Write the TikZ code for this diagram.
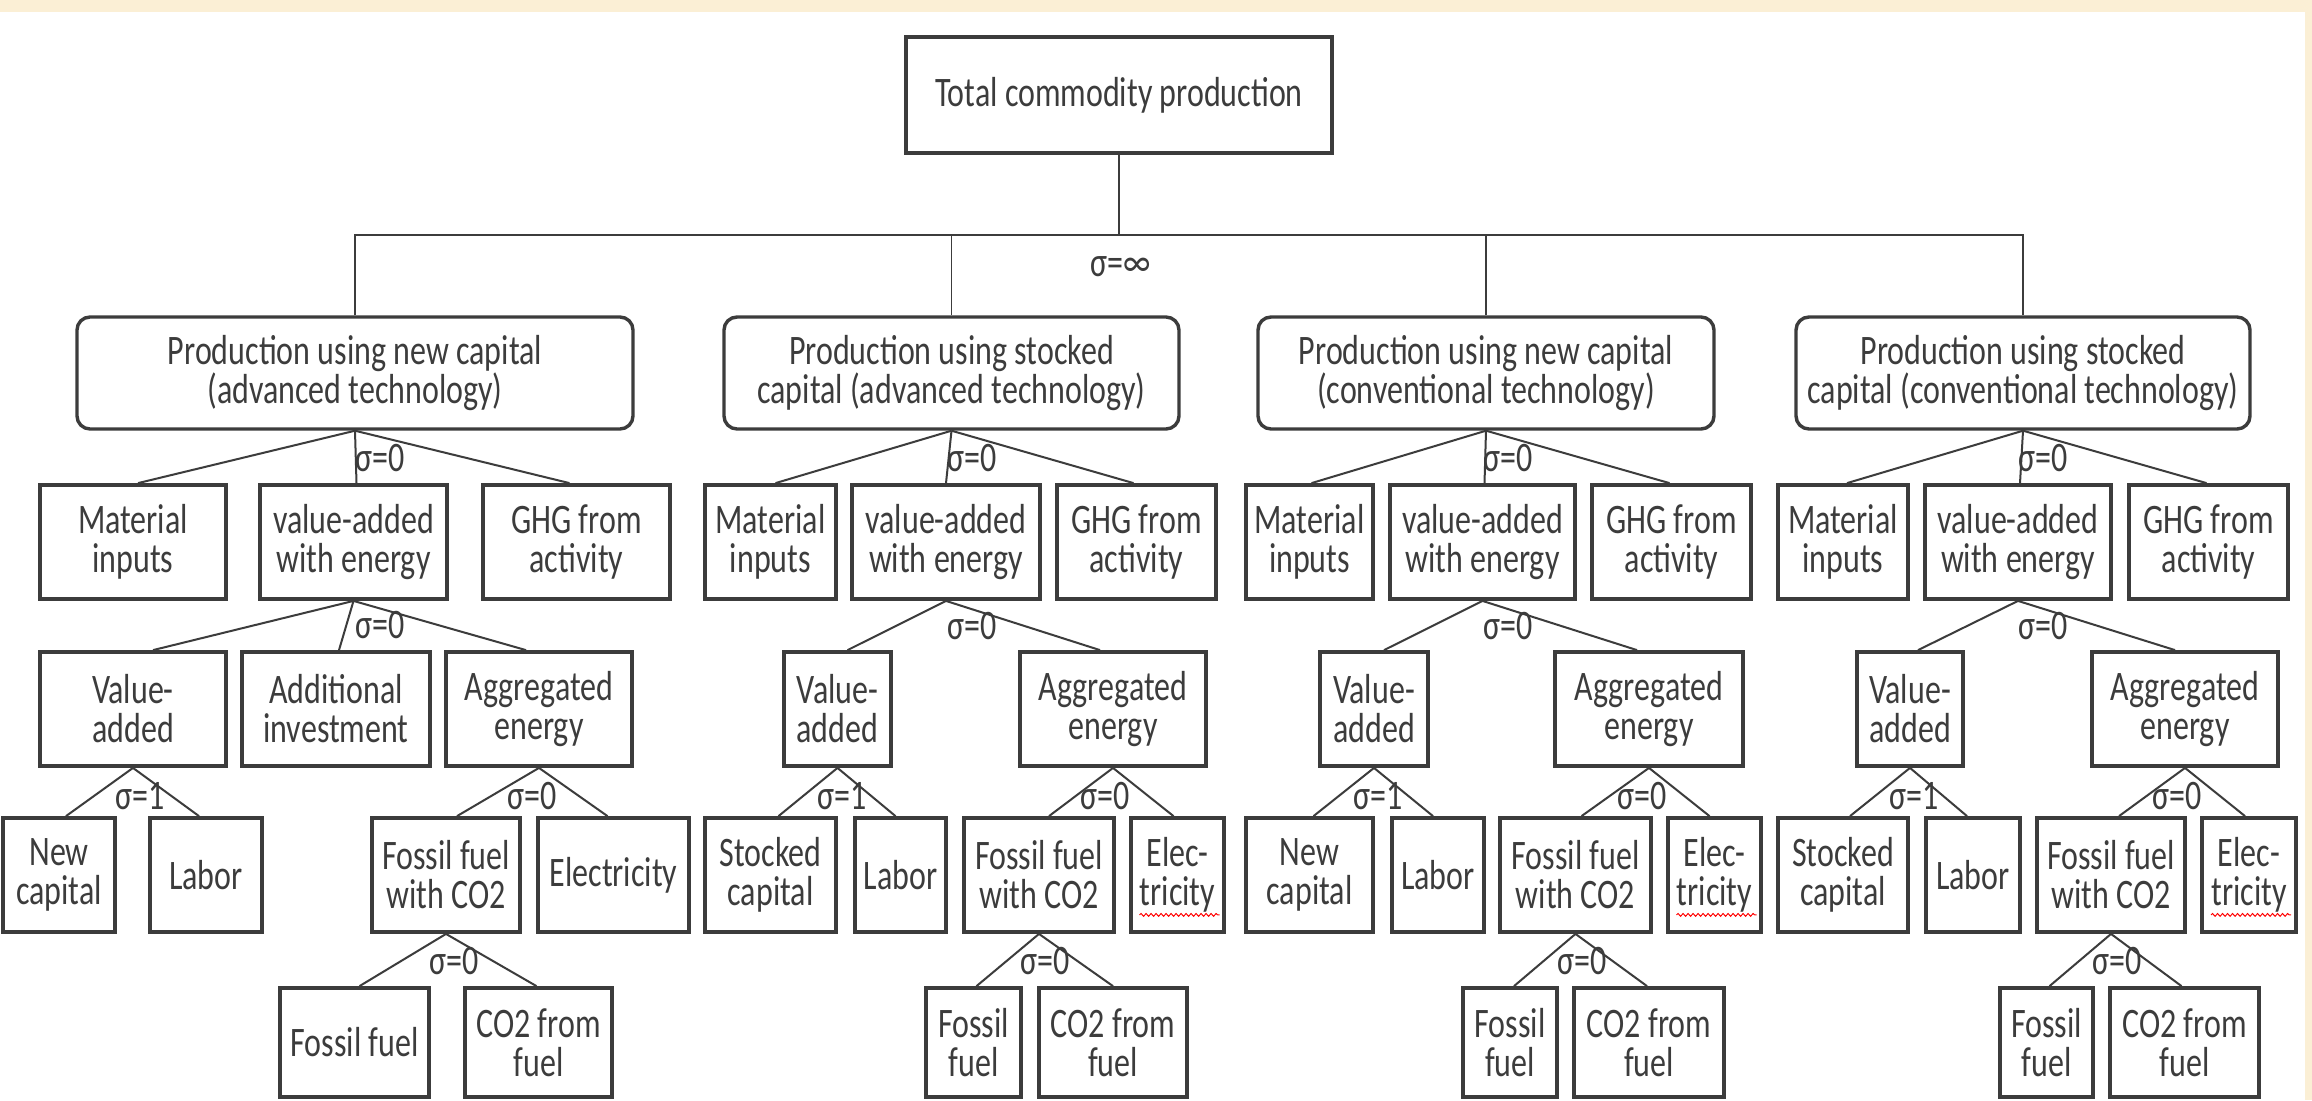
\documentclass[tikz,border=0pt]{standalone}
\usepackage{fontspec}
\setmainfont{Carlito}[FakeStretch=0.762]
\usetikzlibrary{calc,decorations.pathmorphing}
\definecolor{ink}{HTML}{3C3C3C}
\definecolor{beige}{HTML}{FBEFD5}
\newcommand\bx[7][]{\node[box,#1,minimum width={(#5-#3)*0.5pt},minimum height={(#6-#4)*0.5pt}] (#2) at ({(#3+#5)/2},{(#4+#6)/2}) {#7};}
\newcommand\con[3]{\draw[conn] (#1.south) -- ([xshift=#3*0.5pt]#2.north);}
\newcommand\squig[1]{\draw[squigline] ($(#1.south)+(-38,-19)$) -- ($(#1.south)+(42,-19)$);}
\begin{document}
\begin{tikzpicture}[x=0.5pt,y=-0.5pt,
  box/.style={draw=ink,line width=1.9pt,inner sep=0pt,align=center,text=ink,font=\fontsize{21}{19.5}\selectfont},
  rbox/.style={rounded corners=6.5pt,line width=1.7pt},
  conn/.style={draw=ink,line width=1pt},
  conntop/.style={draw=ink,line width=0.8pt},
  sig/.style={inner sep=0pt,text=ink,font=\fontsize{21}{19.5}\selectfont},
  squigline/.style={draw=red,line width=0.5pt,decorate,decoration={snake,amplitude=0.7pt,segment length=2.5pt}}]
\fill[white] (0,0) rectangle (2312,1100);
\useasboundingbox (0,0) rectangle (2312,1100);
\fill[beige] (0,0) rectangle (2312,12);
\fill[beige] (2305,0) rectangle (2312,1100);

% top
\bx{T}{906}{37}{1332}{153}{Total commodity production}
% level 1
\bx[rbox]{A}{77}{317}{633}{429}{Production using new capital\\(advanced technology)}
\bx[rbox]{B}{724}{317}{1179}{429}{Production using stocked\\capital (advanced technology)}
\bx[rbox]{C}{1258}{317}{1714}{429}{Production using new capital\\(conventional technology)}
\bx[rbox]{D}{1796}{317}{2250}{429}{Production using stocked\\capital (conventional technology)}

\coordinate (bar) at (0,235);
\draw[conntop] (T.south) -- (T.south |- bar);
\draw[conntop] (A.north) -- (A.north |- bar) -- (D.north |- bar) -- (D.north);
\draw[conntop] (B.north) -- (B.north |- bar);
\draw[conntop] (C.north) -- (C.north |- bar);
\node[sig] (sinf) at (1121,267) {σ=∞};

% ---------- panel A ----------
\bx{Ma}{40}{485}{226}{599}{Material\\inputs}
\bx{VEa}{260}{485}{447}{599}{value-added\\with energy}
\bx{Ga}{483}{485}{670}{599}{GHG from\\activity}
\bx{VAa}{40}{652}{226}{766}{Value-\\added}
\bx{AIa}{242}{652}{430}{766}{Additional\\investment}
\bx{AEa}{446}{652}{632}{766}{Aggregated\\energy}
\bx{NCa}{3}{818}{115}{932}{New\\capital}
\bx{La}{150}{818}{262}{932}{Labor}
\bx{FCa}{372}{818}{520}{932}{Fossil fuel\\with CO2}
\bx{Ea}{538}{818}{689}{932}{Electricity}
\bx{Fa}{280}{988}{429}{1097}{Fossil fuel}
\bx{COa}{465}{988}{612}{1097}{CO2 from\\fuel}
\con{A}{Ma}{5}\con{A}{VEa}{3}\con{A}{Ga}{-7}
\con{VEa}{VAa}{20}\con{VEa}{AIa}{3}\con{VEa}{AEa}{-13}
\con{VAa}{NCa}{7}\con{VAa}{La}{-7}\con{AEa}{FCa}{11}\con{AEa}{Ea}{-6}
\con{FCa}{Fa}{5}\con{FCa}{COa}{-2}
\node[sig] (sa1) at (380,458) {σ=0};
\node[sig] (sa2) at (380,625) {σ=0};
\node[sig] (sa3) at (140,796) {σ=1};
\node[sig] (sa4) at (532,796) {σ=0};
\node[sig] (sa5) at (454,961) {σ=0};

% ---------- panel B ----------
\bx{Mb}{705}{485}{836}{599}{Material\\inputs}
\bx{VEb}{852}{485}{1040}{599}{value-added\\with energy}
\bx{Gb}{1057}{485}{1216}{599}{GHG from\\activity}
\bx{VAb}{784}{652}{891}{766}{Value-\\added}
\bx{AEb}{1020}{652}{1206}{766}{Aggregated\\energy}
\bx{SCb}{705}{818}{836}{932}{Stocked\\capital}
\bx{Lb}{855}{818}{946}{932}{Labor}
\bx{FCb}{964}{818}{1114}{932}{Fossil fuel\\with CO2}
\bx{Eb}{1131}{818}{1224}{932}{Elec-\\tricity}
\bx{Fb}{926}{988}{1021}{1097}{Fossil\\fuel}
\bx{COb}{1039}{988}{1187}{1097}{CO2 from\\fuel}
\con{B}{Mb}{5}\con{B}{VEb}{0}\con{B}{Gb}{-3}
\con{VEb}{VAb}{10}\con{VEb}{AEb}{-13}
\con{VAb}{SCb}{8}\con{VAb}{Lb}{-5}\con{AEb}{FCb}{10}\con{AEb}{Eb}{-4}
\con{FCb}{Fb}{3}\con{FCb}{COb}{0}
\node[sig] (sb1) at (972,458) {σ=0};
\node[sig] (sb2) at (972,626) {σ=0};
\node[sig] (sb3) at (842,796) {σ=1};
\node[sig] (sb4) at (1105,796) {σ=0};
\node[sig] (sb5) at (1045,961) {σ=0};
\squig{Eb}

% ---------- panel C ----------
\bx{Mc}{1246}{485}{1373}{599}{Material\\inputs}
\bx{VEc}{1390}{485}{1575}{599}{value-added\\with energy}
\bx{Gc}{1592}{485}{1751}{599}{GHG from\\activity}
\bx{VAc}{1320}{652}{1428}{766}{Value-\\added}
\bx{AEc}{1555}{652}{1743}{766}{Aggregated\\energy}
\bx{NCc}{1246}{818}{1373}{932}{New\\capital}
\bx{Lc}{1392}{818}{1484}{932}{Labor}
\bx{FCc}{1500}{818}{1651}{932}{Fossil fuel\\with CO2}
\bx{Ec}{1668}{818}{1761}{932}{Elec-\\tricity}
\bx{Fc}{1463}{988}{1557}{1097}{Fossil\\fuel}
\bx{COc}{1574}{988}{1724}{1097}{CO2 from\\fuel}
\con{C}{Mc}{2}\con{C}{VEc}{2}\con{C}{Gc}{-2}
\con{VEc}{VAc}{10}\con{VEc}{AEc}{-12}
\con{VAc}{NCc}{4}\con{VAc}{Lc}{-5}\con{AEc}{FCc}{6}\con{AEc}{Ec}{-5}
\con{FCc}{Fc}{4}\con{FCc}{COc}{-2}
\node[sig] (sc1) at (1508,458) {σ=0};
\node[sig] (sc2) at (1508,626) {σ=0};
\node[sig] (sc3) at (1378,796) {σ=1};
\node[sig] (sc4) at (1642,796) {σ=0};
\node[sig] (sc5) at (1582,961) {σ=0};
\squig{Ec}

% ---------- panel D ----------
\bx{Md}{1778}{485}{1908}{599}{Material\\inputs}
\bx{VEd}{1925}{485}{2111}{599}{value-added\\with energy}
\bx{Gd}{2129}{485}{2288}{599}{GHG from\\activity}
\bx{VAd}{1857}{652}{1963}{766}{Value-\\added}
\bx{AEd}{2092}{652}{2278}{766}{Aggregated\\energy}
\bx{SCd}{1778}{818}{1908}{932}{Stocked\\capital}
\bx{Ld}{1926}{818}{2020}{932}{Labor}
\bx{FCd}{2037}{818}{2185}{932}{Fossil fuel\\with CO2}
\bx{Ed}{2202}{818}{2296}{932}{Elec-\\tricity}
\bx{Fd}{2000}{988}{2093}{1097}{Fossil\\fuel}
\bx{COd}{2110}{988}{2259}{1097}{CO2 from\\fuel}
\con{D}{Md}{4}\con{D}{VEd}{2}\con{D}{Gd}{-2}
\con{VEd}{VAd}{8}\con{VEd}{AEd}{-10}
\con{VAd}{SCd}{7}\con{VAd}{Ld}{-6}\con{AEd}{FCd}{8}\con{AEd}{Ed}{-4}
\con{FCd}{Fd}{3}\con{FCd}{COd}{-3}
\node[sig] (sd1) at (2043,458) {σ=0};
\node[sig] (sd2) at (2043,626) {σ=0};
\node[sig] (sd3) at (1914,796) {σ=1};
\node[sig] (sd4) at (2177,796) {σ=0};
\node[sig] (sd5) at (2117,961) {σ=0};
\squig{Ed}
\end{tikzpicture}
\end{document}
